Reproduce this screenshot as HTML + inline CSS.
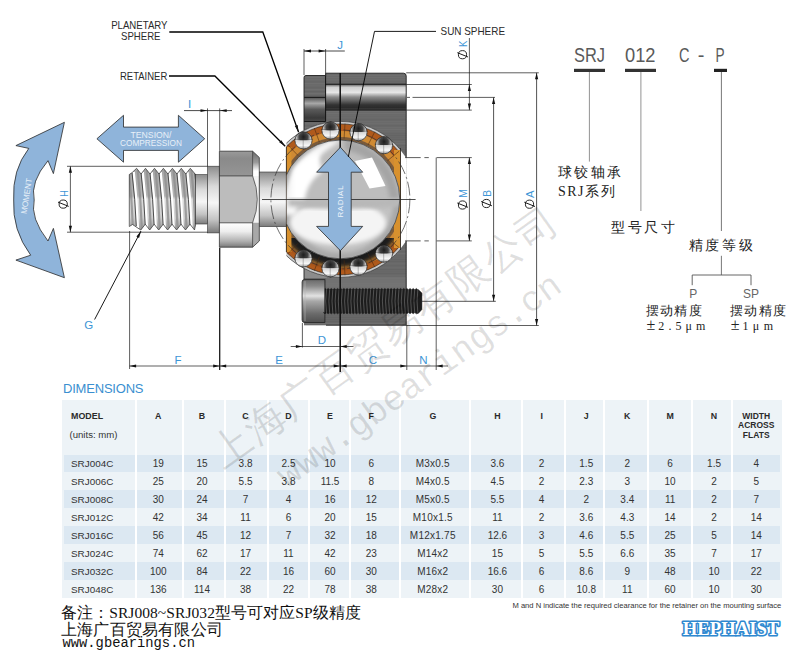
<!DOCTYPE html>
<html><head><meta charset="utf-8">
<style>
html,body{margin:0;padding:0;background:#fff;width:800px;height:657px;overflow:hidden;position:relative}
body{font-family:"Liberation Sans",sans-serif;color:#333}
.abs{position:absolute}
svg{position:absolute;left:0;top:0}
.tb{position:absolute;left:62px;top:400px;width:720px;height:198px;background:#edf3f7}
.cell{position:absolute;text-align:center;font-size:10px;color:#333}
.hd{font-weight:bold;font-size:8.5px;color:#222}
</style></head><body>

<svg width="800" height="657" viewBox="0 0 800 657">
<defs>
<linearGradient id="gThread" x1="0" y1="0" x2="0" y2="1">
<stop offset="0" stop-color="#9a9a9a"/><stop offset="0.25" stop-color="#e8e8e8"/><stop offset="0.5" stop-color="#c8c8c8"/><stop offset="0.7" stop-color="#f4f4f4"/><stop offset="1" stop-color="#8a8a8a"/>
</linearGradient>
<linearGradient id="gCyl" x1="0" y1="0" x2="0" y2="1">
<stop offset="0" stop-color="#8c8c8c"/><stop offset="0.3" stop-color="#d9d9d9"/><stop offset="0.55" stop-color="#f6f6f6"/><stop offset="0.8" stop-color="#c4c4c4"/><stop offset="1" stop-color="#7a7a7a"/>
</linearGradient>
<linearGradient id="gNutTop" x1="0" y1="0" x2="0" y2="1">
<stop offset="0" stop-color="#7d7d7d"/><stop offset="0.5" stop-color="#a8a8a8"/><stop offset="1" stop-color="#9a9a9a"/>
</linearGradient>
<linearGradient id="gNutMid" x1="0" y1="0" x2="0" y2="1">
<stop offset="0" stop-color="#a9a9a9"/><stop offset="0.5" stop-color="#c6c6c6"/><stop offset="1" stop-color="#b0b0b0"/>
</linearGradient>
<linearGradient id="gNutBot" x1="0" y1="0" x2="0" y2="1">
<stop offset="0" stop-color="#f2f2f2"/><stop offset="0.5" stop-color="#d0d0d0"/><stop offset="1" stop-color="#8a8a8a"/>
</linearGradient>
<linearGradient id="gHole" x1="0" y1="0" x2="0" y2="1">
<stop offset="0" stop-color="#5a5a5a"/><stop offset="0.12" stop-color="#cfcfcf"/><stop offset="0.32" stop-color="#e6e6e6"/><stop offset="0.5" stop-color="#8a8a8a"/><stop offset="0.62" stop-color="#6a6a6a"/><stop offset="0.8" stop-color="#333"/><stop offset="0.92" stop-color="#2a2a2a"/><stop offset="1" stop-color="#555"/>
</linearGradient>
<linearGradient id="gHoleL" x1="0" y1="0" x2="0" y2="1">
<stop offset="0" stop-color="#505050"/><stop offset="0.25" stop-color="#a8a8a8"/><stop offset="0.5" stop-color="#5a5a5a"/><stop offset="0.85" stop-color="#3a3a3a"/><stop offset="1" stop-color="#4a4a4a"/>
</linearGradient>
<linearGradient id="gHousing" x1="0" y1="0" x2="1" y2="0">
<stop offset="0" stop-color="#5e5e5e"/><stop offset="0.5" stop-color="#6e6e6e"/><stop offset="1" stop-color="#606060"/>
</linearGradient>
<linearGradient id="gScrewHead" x1="0" y1="0" x2="1" y2="0">
<stop offset="0" stop-color="#6a6a6a"/><stop offset="0.2" stop-color="#d8d8d8"/><stop offset="0.45" stop-color="#8a8a8a"/><stop offset="1" stop-color="#5a5a5a"/>
</linearGradient>
<linearGradient id="gScrewHeadV" x1="0" y1="0" x2="0" y2="1">
<stop offset="0" stop-color="#555"/><stop offset="0.3" stop-color="#cfcfcf"/><stop offset="0.6" stop-color="#8c8c8c"/><stop offset="1" stop-color="#4a4a4a"/>
</linearGradient>
<radialGradient id="gSphere" cx="0.45" cy="0.42" r="0.6">
<stop offset="0" stop-color="#ffffff"/><stop offset="0.35" stop-color="#d8d8d8"/><stop offset="0.7" stop-color="#b4b4b4"/><stop offset="0.92" stop-color="#e8e8e8"/><stop offset="1" stop-color="#9a9a9a"/>
</radialGradient>
<radialGradient id="gBall" cx="0.45" cy="0.35" r="0.6">
<stop offset="0" stop-color="#1a1a1a"/><stop offset="0.35" stop-color="#505050"/><stop offset="0.6" stop-color="#d8d8d8"/><stop offset="0.85" stop-color="#ffffff"/><stop offset="1" stop-color="#777"/>
</radialGradient>
<radialGradient id="gBallB" cx="0.45" cy="0.35" r="0.6">
<stop offset="0" stop-color="#1a1a1a"/><stop offset="0.35" stop-color="#505050"/><stop offset="0.6" stop-color="#d8d8d8"/><stop offset="0.85" stop-color="#ffffff"/><stop offset="1" stop-color="#777"/>
</radialGradient>
<marker id="ah" viewBox="0 0 10 6" refX="10" refY="3" markerWidth="7" markerHeight="4" orient="auto-start-reverse" markerUnits="userSpaceOnUse">
<path d="M0,0 L10,3 L0,6 z" fill="#111"/>
</marker>
</defs>
<path d="M64.4,122.3 L53.4,173.6 L48,160.7 Q30,182 34.2,200 Q30,218 48,241 L53.4,228.4 L64.4,277.7 L15.9,260.1 L30.7,255.2 Q12,230 13.7,200 Q12,170 28.8,148.4 L15.9,145.6 Z" fill="#8fb4da" stroke="#2a2a2a" stroke-width="0.8"/>
<text x="0" y="0" font-family="Liberation Sans" font-size="8.2" fill="#e8f0f8" text-anchor="middle" textLength="36" lengthAdjust="spacingAndGlyphs" transform="translate(29.2,196.5) rotate(-81)">MOMENT</text>
<path d="M96.9,138.75 L123.5,115.3 L123.5,127.1 L178.4,127.1 L178.4,115.3 L204.7,138.75 L178.4,162.2 L178.4,150.4 L123.5,150.4 L123.5,162.2 Z" fill="#8fb4da" stroke="#2a2a2a" stroke-width="0.8"/>
<text x="151" y="137.8" font-family="Liberation Sans" font-size="8.6" fill="#e8f0f8" text-anchor="middle" textLength="41" lengthAdjust="spacingAndGlyphs">TENSION/</text>
<text x="151" y="146.1" font-family="Liberation Sans" font-size="8.6" fill="#e8f0f8" text-anchor="middle" textLength="62" lengthAdjust="spacingAndGlyphs">COMPRESSION</text>
<defs><linearGradient id="gTh" x1="0" y1="0" x2="0" y2="1"><stop offset="0" stop-color="#a8a8a8"/><stop offset="0.45" stop-color="#b4b4b4"/><stop offset="0.5" stop-color="#dcdcdc"/><stop offset="0.8" stop-color="#cfcfcf"/><stop offset="1" stop-color="#9a9a9a"/></linearGradient><clipPath id="cpTh"><path d="M129.3,174.5 L132.2,172.5 L136.6,168.3 L141.1,174.0 L145.5,168.3 L150.0,174.0 L154.5,168.3 L159.0,174.0 L163.4,168.3 L167.9,174.0 L172.4,168.3 L176.9,174.0 L181.3,168.3 L185.8,174.0 L190.3,168.3 L195.6,174.5 L195.6,224.5 L194.5,230.0 L190.0,224.2 L185.5,230.0 L181.1,224.2 L176.6,230.0 L172.1,224.2 L167.6,230.0 L163.2,224.2 L158.7,230.0 L154.2,224.2 L149.7,230.0 L145.3,224.2 L140.8,230.0 L132.5,224.5 L129.3,226.5 Z"/></clipPath></defs>
<path d="M129.3,174.5 L132.2,172.5 L136.6,168.3 L141.1,174.0 L145.5,168.3 L150.0,174.0 L154.5,168.3 L159.0,174.0 L163.4,168.3 L167.9,174.0 L172.4,168.3 L176.9,174.0 L181.3,168.3 L185.8,174.0 L190.3,168.3 L195.6,174.5 L195.6,224.5 L194.5,230.0 L190.0,224.2 L185.5,230.0 L181.1,224.2 L176.6,230.0 L172.1,224.2 L167.6,230.0 L163.2,224.2 L158.7,230.0 L154.2,224.2 L149.7,230.0 L145.3,224.2 L140.8,230.0 L132.5,224.5 L129.3,226.5 Z" fill="url(#gTh)"/>
<g clip-path="url(#cpTh)">
<path d="M124.7,172 Q127.8,199 128.9,228" fill="none" stroke="#ffffff" stroke-width="2.6"/>
<path d="M128.8,170 Q131.9,199 133.0,230" fill="none" stroke="#8e8e8e" stroke-width="2.2" opacity="0.8"/>
<path d="M123.2,173 Q126.3,199 127.4,226" fill="none" stroke="#3a3a3a" stroke-width="0.9"/>
<path d="M133.6,172 Q136.7,199 137.8,228" fill="none" stroke="#ffffff" stroke-width="2.6"/>
<path d="M137.7,170 Q140.8,199 141.9,230" fill="none" stroke="#8e8e8e" stroke-width="2.2" opacity="0.8"/>
<path d="M132.1,173 Q135.2,199 136.3,226" fill="none" stroke="#3a3a3a" stroke-width="0.9"/>
<path d="M142.6,172 Q145.7,199 146.8,228" fill="none" stroke="#ffffff" stroke-width="2.6"/>
<path d="M146.7,170 Q149.8,199 150.9,230" fill="none" stroke="#8e8e8e" stroke-width="2.2" opacity="0.8"/>
<path d="M141.1,173 Q144.2,199 145.3,226" fill="none" stroke="#3a3a3a" stroke-width="0.9"/>
<path d="M151.5,172 Q154.6,199 155.7,228" fill="none" stroke="#ffffff" stroke-width="2.6"/>
<path d="M155.6,170 Q158.7,199 159.8,230" fill="none" stroke="#8e8e8e" stroke-width="2.2" opacity="0.8"/>
<path d="M150.0,173 Q153.1,199 154.2,226" fill="none" stroke="#3a3a3a" stroke-width="0.9"/>
<path d="M160.5,172 Q163.6,199 164.7,228" fill="none" stroke="#ffffff" stroke-width="2.6"/>
<path d="M164.6,170 Q167.7,199 168.8,230" fill="none" stroke="#8e8e8e" stroke-width="2.2" opacity="0.8"/>
<path d="M159.0,173 Q162.1,199 163.2,226" fill="none" stroke="#3a3a3a" stroke-width="0.9"/>
<path d="M169.4,172 Q172.5,199 173.6,228" fill="none" stroke="#ffffff" stroke-width="2.6"/>
<path d="M173.5,170 Q176.6,199 177.7,230" fill="none" stroke="#8e8e8e" stroke-width="2.2" opacity="0.8"/>
<path d="M167.9,173 Q171.0,199 172.1,226" fill="none" stroke="#3a3a3a" stroke-width="0.9"/>
<path d="M178.4,172 Q181.5,199 182.6,228" fill="none" stroke="#ffffff" stroke-width="2.6"/>
<path d="M182.5,170 Q185.6,199 186.7,230" fill="none" stroke="#8e8e8e" stroke-width="2.2" opacity="0.8"/>
<path d="M176.9,173 Q180.0,199 181.1,226" fill="none" stroke="#3a3a3a" stroke-width="0.9"/>
<path d="M187.3,172 Q190.4,199 191.5,228" fill="none" stroke="#ffffff" stroke-width="2.6"/>
<path d="M191.4,170 Q194.5,199 195.6,230" fill="none" stroke="#8e8e8e" stroke-width="2.2" opacity="0.8"/>
<path d="M185.8,173 Q188.9,199 190.0,226" fill="none" stroke="#3a3a3a" stroke-width="0.9"/>
<path d="M196.3,172 Q199.4,199 200.5,228" fill="none" stroke="#ffffff" stroke-width="2.6"/>
<path d="M200.4,170 Q203.5,199 204.6,230" fill="none" stroke="#8e8e8e" stroke-width="2.2" opacity="0.8"/>
<path d="M194.8,173 Q197.9,199 199.0,226" fill="none" stroke="#3a3a3a" stroke-width="0.9"/>
</g>
<path d="M129.3,174.5 L132.2,172.5 L136.6,168.3 L141.1,174.0 L145.5,168.3 L150.0,174.0 L154.5,168.3 L159.0,174.0 L163.4,168.3 L167.9,174.0 L172.4,168.3 L176.9,174.0 L181.3,168.3 L185.8,174.0 L190.3,168.3 L195.6,174.5 L195.6,224.5 L194.5,230.0 L190.0,224.2 L185.5,230.0 L181.1,224.2 L176.6,230.0 L172.1,224.2 L167.6,230.0 L163.2,224.2 L158.7,230.0 L154.2,224.2 L149.7,230.0 L145.3,224.2 L140.8,230.0 L132.5,224.5 L129.3,226.5 Z" fill="none" stroke="#333" stroke-width="0.7"/>
<rect x="195.6" y="174.6" width="11.9" height="49.4" fill="url(#gCyl)" stroke="#333" stroke-width="0.6"/>
<rect x="207.5" y="166.2" width="12.2" height="66.7" fill="url(#gCyl)" stroke="#333" stroke-width="0.6"/>
<defs><linearGradient id="gNT" x1="0" y1="0" x2="0" y2="1"><stop offset="0" stop-color="#9a9a9a"/><stop offset="0.3" stop-color="#8a8a8a"/><stop offset="1" stop-color="#959595"/></linearGradient><linearGradient id="gNB" x1="0" y1="0" x2="0" y2="1"><stop offset="0" stop-color="#ffffff"/><stop offset="0.35" stop-color="#eeeeee"/><stop offset="0.75" stop-color="#b0b0b0"/><stop offset="1" stop-color="#7a7a7a"/></linearGradient><linearGradient id="gNC" x1="0" y1="0" x2="0" y2="1"><stop offset="0" stop-color="#6a6a6a"/><stop offset="0.45" stop-color="#9a9a9a"/><stop offset="0.8" stop-color="#ffffff"/><stop offset="1" stop-color="#ffffff"/></linearGradient></defs>
<rect x="219.4" y="151.2" width="33.4" height="24.7" fill="url(#gNT)"/>
<path d="M219.4,175.9 L252.6,175.9 Q262,199.3 252.6,222.8 L219.4,222.8 Z" fill="#bcbcbc"/>
<rect x="219.4" y="222.8" width="33.4" height="24.4" fill="url(#gNB)"/>
<path d="M252.6,151.2 L259.3,157.5 L259.3,176 L252.6,176 Z" fill="url(#gNC)"/>
<path d="M252.6,175.9 L259.3,176 L259.3,222.8 L252.6,222.8 Q262,199.3 252.6,175.9 Z" fill="#f4f4f4"/>
<path d="M252.6,222.8 L259.3,222.8 L259.3,241 L252.6,247.2 Z" fill="#a8a8a8"/>
<path d="M219.4,151.2 L252.6,151.2 L259.3,157.5 L259.3,241 L252.6,247.2 L219.4,247.2 Z" fill="none" stroke="#333" stroke-width="0.8"/>
<path d="M252.6,151.2 L252.6,175.9 Q262,199.3 252.6,222.8 L252.6,247.2" fill="none" stroke="#333" stroke-width="0.7"/>
<line x1="219.4" y1="175.9" x2="252.6" y2="175.9" stroke="#333" stroke-width="0.8" />
<line x1="219.4" y1="222.8" x2="252.6" y2="222.8" stroke="#333" stroke-width="0.8" />
<rect x="259.3" y="172" width="28" height="54.6" fill="url(#gCyl)" stroke="#333" stroke-width="0.6"/>
<defs><clipPath id="cpHouse"><path d="M304,77.5 Q304,75.5 306,75.5 L325.6,75.5 L325.6,73.2 L403.5,73.2 Q406.2,73.2 406.2,76 L406.2,325.2 L304,325.2 Z"/></clipPath><clipPath id="cpRet"><rect x="286.4" y="100" width="114.1" height="200"/></clipPath><linearGradient id="gBall2" x1="0" y1="0" x2="0" y2="1"><stop offset="0" stop-color="#6a6a6a"/><stop offset="0.12" stop-color="#222"/><stop offset="0.44" stop-color="#3a3a3a"/><stop offset="0.52" stop-color="#c4c4c4"/><stop offset="0.8" stop-color="#f0f0f0"/><stop offset="1" stop-color="#8a8a8a"/></linearGradient><filter id="blur1" x="-20%" y="-20%" width="140%" height="140%"><feGaussianBlur stdDeviation="2"/></filter><filter id="blur3" x="-30%" y="-30%" width="160%" height="160%"><feGaussianBlur stdDeviation="4"/></filter></defs>
<g clip-path="url(#cpHouse)">
<rect x="300" y="70" width="110" height="260" fill="#6a6a6a"/>
<rect x="304" y="73.0" width="103" height="1.2" fill="#737373" opacity="0.35"/>
<rect x="304" y="75.0" width="103" height="1.2" fill="#787878" opacity="0.35"/>
<rect x="304" y="77.0" width="103" height="1.2" fill="#787878" opacity="0.35"/>
<rect x="304" y="79.0" width="103" height="1.2" fill="#737373" opacity="0.35"/>
<rect x="304" y="81.0" width="103" height="1.2" fill="#616161" opacity="0.35"/>
<rect x="304" y="83.0" width="103" height="1.2" fill="#787878" opacity="0.35"/>
<rect x="304" y="85.0" width="103" height="1.2" fill="#6c6c6c" opacity="0.35"/>
<rect x="304" y="87.0" width="103" height="1.2" fill="#5e5e5e" opacity="0.35"/>
<rect x="304" y="89.0" width="103" height="1.2" fill="#787878" opacity="0.35"/>
<rect x="304" y="91.0" width="103" height="1.2" fill="#5a5a5a" opacity="0.35"/>
<rect x="304" y="93.0" width="103" height="1.2" fill="#787878" opacity="0.35"/>
<rect x="304" y="95.0" width="103" height="1.2" fill="#5a5a5a" opacity="0.35"/>
<rect x="304" y="97.0" width="103" height="1.2" fill="#6c6c6c" opacity="0.35"/>
<rect x="304" y="99.0" width="103" height="1.2" fill="#616161" opacity="0.35"/>
<rect x="304" y="101.0" width="103" height="1.2" fill="#787878" opacity="0.35"/>
<rect x="304" y="103.0" width="103" height="1.2" fill="#737373" opacity="0.35"/>
<rect x="304" y="105.0" width="103" height="1.2" fill="#737373" opacity="0.35"/>
<rect x="304" y="107.0" width="103" height="1.2" fill="#5e5e5e" opacity="0.35"/>
<rect x="304" y="109.0" width="103" height="1.2" fill="#6c6c6c" opacity="0.35"/>
<rect x="304" y="111.0" width="103" height="1.2" fill="#787878" opacity="0.35"/>
<rect x="304" y="113.0" width="103" height="1.2" fill="#787878" opacity="0.35"/>
<rect x="304" y="115.0" width="103" height="1.2" fill="#6c6c6c" opacity="0.35"/>
<rect x="304" y="117.0" width="103" height="1.2" fill="#6c6c6c" opacity="0.35"/>
<rect x="304" y="119.0" width="103" height="1.2" fill="#5e5e5e" opacity="0.35"/>
<rect x="304" y="121.0" width="103" height="1.2" fill="#737373" opacity="0.35"/>
<rect x="304" y="123.0" width="103" height="1.2" fill="#737373" opacity="0.35"/>
<rect x="304" y="125.0" width="103" height="1.2" fill="#5e5e5e" opacity="0.35"/>
<rect x="304" y="127.0" width="103" height="1.2" fill="#737373" opacity="0.35"/>
<rect x="304" y="129.0" width="103" height="1.2" fill="#787878" opacity="0.35"/>
<rect x="304" y="131.0" width="103" height="1.2" fill="#6c6c6c" opacity="0.35"/>
<rect x="304" y="133.0" width="103" height="1.2" fill="#5e5e5e" opacity="0.35"/>
<rect x="304" y="135.0" width="103" height="1.2" fill="#5a5a5a" opacity="0.35"/>
<rect x="304" y="137.0" width="103" height="1.2" fill="#5e5e5e" opacity="0.35"/>
<rect x="304" y="139.0" width="103" height="1.2" fill="#5a5a5a" opacity="0.35"/>
<rect x="304" y="141.0" width="103" height="1.2" fill="#737373" opacity="0.35"/>
<rect x="304" y="143.0" width="103" height="1.2" fill="#787878" opacity="0.35"/>
<rect x="304" y="145.0" width="103" height="1.2" fill="#5a5a5a" opacity="0.35"/>
<rect x="304" y="147.0" width="103" height="1.2" fill="#616161" opacity="0.35"/>
<rect x="304" y="149.0" width="103" height="1.2" fill="#5a5a5a" opacity="0.35"/>
<rect x="304" y="151.0" width="103" height="1.2" fill="#616161" opacity="0.35"/>
<rect x="304" y="153.0" width="103" height="1.2" fill="#6c6c6c" opacity="0.35"/>
<rect x="304" y="155.0" width="103" height="1.2" fill="#787878" opacity="0.35"/>
<rect x="304" y="157.0" width="103" height="1.2" fill="#5e5e5e" opacity="0.35"/>
<rect x="304" y="159.0" width="103" height="1.2" fill="#6c6c6c" opacity="0.35"/>
<rect x="304" y="161.0" width="103" height="1.2" fill="#5e5e5e" opacity="0.35"/>
<rect x="304" y="163.0" width="103" height="1.2" fill="#6c6c6c" opacity="0.35"/>
<rect x="304" y="165.0" width="103" height="1.2" fill="#6c6c6c" opacity="0.35"/>
<rect x="304" y="167.0" width="103" height="1.2" fill="#5e5e5e" opacity="0.35"/>
<rect x="304" y="169.0" width="103" height="1.2" fill="#787878" opacity="0.35"/>
<rect x="304" y="171.0" width="103" height="1.2" fill="#6c6c6c" opacity="0.35"/>
<rect x="304" y="173.0" width="103" height="1.2" fill="#737373" opacity="0.35"/>
<rect x="304" y="175.0" width="103" height="1.2" fill="#616161" opacity="0.35"/>
<rect x="304" y="177.0" width="103" height="1.2" fill="#5a5a5a" opacity="0.35"/>
<rect x="304" y="179.0" width="103" height="1.2" fill="#5a5a5a" opacity="0.35"/>
<rect x="304" y="181.0" width="103" height="1.2" fill="#737373" opacity="0.35"/>
<rect x="304" y="183.0" width="103" height="1.2" fill="#6c6c6c" opacity="0.35"/>
<rect x="304" y="185.0" width="103" height="1.2" fill="#737373" opacity="0.35"/>
<rect x="304" y="187.0" width="103" height="1.2" fill="#616161" opacity="0.35"/>
<rect x="304" y="189.0" width="103" height="1.2" fill="#5e5e5e" opacity="0.35"/>
<rect x="304" y="191.0" width="103" height="1.2" fill="#6c6c6c" opacity="0.35"/>
<rect x="304" y="193.0" width="103" height="1.2" fill="#5e5e5e" opacity="0.35"/>
<rect x="304" y="195.0" width="103" height="1.2" fill="#616161" opacity="0.35"/>
<rect x="304" y="197.0" width="103" height="1.2" fill="#6c6c6c" opacity="0.35"/>
<rect x="304" y="199.0" width="103" height="1.2" fill="#787878" opacity="0.35"/>
<rect x="304" y="201.0" width="103" height="1.2" fill="#6c6c6c" opacity="0.35"/>
<rect x="304" y="203.0" width="103" height="1.2" fill="#787878" opacity="0.35"/>
<rect x="304" y="205.0" width="103" height="1.2" fill="#616161" opacity="0.35"/>
<rect x="304" y="207.0" width="103" height="1.2" fill="#787878" opacity="0.35"/>
<rect x="304" y="209.0" width="103" height="1.2" fill="#787878" opacity="0.35"/>
<rect x="304" y="211.0" width="103" height="1.2" fill="#6c6c6c" opacity="0.35"/>
<rect x="304" y="213.0" width="103" height="1.2" fill="#787878" opacity="0.35"/>
<rect x="304" y="215.0" width="103" height="1.2" fill="#737373" opacity="0.35"/>
<rect x="304" y="217.0" width="103" height="1.2" fill="#616161" opacity="0.35"/>
<rect x="304" y="219.0" width="103" height="1.2" fill="#5e5e5e" opacity="0.35"/>
<rect x="304" y="221.0" width="103" height="1.2" fill="#5a5a5a" opacity="0.35"/>
<rect x="304" y="223.0" width="103" height="1.2" fill="#616161" opacity="0.35"/>
<rect x="304" y="225.0" width="103" height="1.2" fill="#787878" opacity="0.35"/>
<rect x="304" y="227.0" width="103" height="1.2" fill="#5e5e5e" opacity="0.35"/>
<rect x="304" y="229.0" width="103" height="1.2" fill="#5e5e5e" opacity="0.35"/>
<rect x="304" y="231.0" width="103" height="1.2" fill="#737373" opacity="0.35"/>
<rect x="304" y="233.0" width="103" height="1.2" fill="#5e5e5e" opacity="0.35"/>
<rect x="304" y="235.0" width="103" height="1.2" fill="#616161" opacity="0.35"/>
<rect x="304" y="237.0" width="103" height="1.2" fill="#787878" opacity="0.35"/>
<rect x="304" y="239.0" width="103" height="1.2" fill="#787878" opacity="0.35"/>
<rect x="304" y="241.0" width="103" height="1.2" fill="#787878" opacity="0.35"/>
<rect x="304" y="243.0" width="103" height="1.2" fill="#5a5a5a" opacity="0.35"/>
<rect x="304" y="245.0" width="103" height="1.2" fill="#5e5e5e" opacity="0.35"/>
<rect x="304" y="247.0" width="103" height="1.2" fill="#5e5e5e" opacity="0.35"/>
<rect x="304" y="249.0" width="103" height="1.2" fill="#737373" opacity="0.35"/>
<rect x="304" y="251.0" width="103" height="1.2" fill="#5e5e5e" opacity="0.35"/>
<rect x="304" y="253.0" width="103" height="1.2" fill="#787878" opacity="0.35"/>
<rect x="304" y="255.0" width="103" height="1.2" fill="#616161" opacity="0.35"/>
<rect x="304" y="257.0" width="103" height="1.2" fill="#616161" opacity="0.35"/>
<rect x="304" y="259.0" width="103" height="1.2" fill="#5a5a5a" opacity="0.35"/>
<rect x="304" y="261.0" width="103" height="1.2" fill="#5a5a5a" opacity="0.35"/>
<rect x="304" y="263.0" width="103" height="1.2" fill="#6c6c6c" opacity="0.35"/>
<rect x="304" y="265.0" width="103" height="1.2" fill="#5e5e5e" opacity="0.35"/>
<rect x="304" y="267.0" width="103" height="1.2" fill="#6c6c6c" opacity="0.35"/>
<rect x="304" y="269.0" width="103" height="1.2" fill="#5a5a5a" opacity="0.35"/>
<rect x="304" y="271.0" width="103" height="1.2" fill="#616161" opacity="0.35"/>
<rect x="304" y="273.0" width="103" height="1.2" fill="#5a5a5a" opacity="0.35"/>
<rect x="304" y="275.0" width="103" height="1.2" fill="#6c6c6c" opacity="0.35"/>
<rect x="304" y="277.0" width="103" height="1.2" fill="#737373" opacity="0.35"/>
<rect x="304" y="279.0" width="103" height="1.2" fill="#5a5a5a" opacity="0.35"/>
<rect x="304" y="281.0" width="103" height="1.2" fill="#616161" opacity="0.35"/>
<rect x="304" y="283.0" width="103" height="1.2" fill="#6c6c6c" opacity="0.35"/>
<rect x="304" y="285.0" width="103" height="1.2" fill="#6c6c6c" opacity="0.35"/>
<rect x="304" y="287.0" width="103" height="1.2" fill="#5a5a5a" opacity="0.35"/>
<rect x="304" y="289.0" width="103" height="1.2" fill="#5a5a5a" opacity="0.35"/>
<rect x="304" y="291.0" width="103" height="1.2" fill="#787878" opacity="0.35"/>
<rect x="304" y="293.0" width="103" height="1.2" fill="#787878" opacity="0.35"/>
<rect x="304" y="295.0" width="103" height="1.2" fill="#5a5a5a" opacity="0.35"/>
<rect x="304" y="297.0" width="103" height="1.2" fill="#6c6c6c" opacity="0.35"/>
<rect x="304" y="299.0" width="103" height="1.2" fill="#5e5e5e" opacity="0.35"/>
<rect x="304" y="301.0" width="103" height="1.2" fill="#787878" opacity="0.35"/>
<rect x="304" y="303.0" width="103" height="1.2" fill="#616161" opacity="0.35"/>
<rect x="304" y="305.0" width="103" height="1.2" fill="#787878" opacity="0.35"/>
<rect x="304" y="307.0" width="103" height="1.2" fill="#616161" opacity="0.35"/>
<rect x="304" y="309.0" width="103" height="1.2" fill="#787878" opacity="0.35"/>
<rect x="304" y="311.0" width="103" height="1.2" fill="#737373" opacity="0.35"/>
<rect x="304" y="313.0" width="103" height="1.2" fill="#5a5a5a" opacity="0.35"/>
<rect x="304" y="315.0" width="103" height="1.2" fill="#616161" opacity="0.35"/>
<rect x="304" y="317.0" width="103" height="1.2" fill="#5a5a5a" opacity="0.35"/>
<rect x="304" y="319.0" width="103" height="1.2" fill="#5a5a5a" opacity="0.35"/>
<rect x="304" y="321.0" width="103" height="1.2" fill="#5a5a5a" opacity="0.35"/>
<rect x="304" y="323.0" width="103" height="1.2" fill="#787878" opacity="0.35"/>
<rect x="304" y="325.0" width="103" height="1.2" fill="#787878" opacity="0.35"/>
<rect x="304" y="327.0" width="103" height="1.2" fill="#5a5a5a" opacity="0.35"/>
<rect x="304" y="329.0" width="103" height="1.2" fill="#737373" opacity="0.35"/>
<rect x="304" y="331.0" width="103" height="1.2" fill="#6c6c6c" opacity="0.35"/>
<rect x="325.6" y="84.2" width="81" height="25.8" fill="url(#gHole)"/>
<line x1="325.6" y1="84.2" x2="406.2" y2="84.2" stroke="#111" stroke-width="1.0" />
<line x1="325.6" y1="110" x2="406.2" y2="110" stroke="#111" stroke-width="1.0" />
<rect x="304" y="97.3" width="21.6" height="24.2" fill="url(#gHoleL)"/>
<line x1="304" y1="97.3" x2="325.6" y2="97.3" stroke="#111" stroke-width="1.0" />
<line x1="304" y1="121.5" x2="325.6" y2="121.5" stroke="#111" stroke-width="0.9" />
<line x1="325.6" y1="73.2" x2="325.6" y2="121.5" stroke="#111" stroke-width="1.0" />
<rect x="304" y="262" width="23" height="16" fill="#8c8c8c"/>
<rect x="326" y="277.4" width="81" height="11" fill="#7a7a7a" opacity="0.6"/>
<circle cx="340.4" cy="199.4" r="77.8" fill="#ffffff"/>
</g>
<path d="M304,77.5 Q304,75.5 306,75.5 L325.6,75.5 L325.6,73.2 L403.5,73.2 Q406.2,73.2 406.2,76 L406.2,157.6 M406.2,240.9 L406.2,325.2 L326,325.2 M304,77.5 L304,130 M304,268 L304,281" fill="none" stroke="#222" stroke-width="0.9"/>
<g clip-path="url(#cpRet)">
<circle cx="340.4" cy="199.4" r="78" fill="#c9c9c9" stroke="#333" stroke-width="0.7"/>
<circle cx="340.4" cy="199.4" r="75.5" fill="#b05a1c" stroke="#222" stroke-width="0.6"/>
<circle cx="340.4" cy="199.4" r="68.5" fill="#cf8a34"/>
<circle cx="340.4" cy="199.4" r="62.5" fill="#7a5a3a"/>
</g>
<defs><clipPath id="cpBot"><rect x="286.4" y="238" width="114" height="60"/></clipPath></defs>
<g clip-path="url(#cpBot)">
<circle cx="340.4" cy="199.4" r="67.5" fill="#1e1e1e" filter="url(#blur1)"/>
<path d="M372,262 L386,255 L390,250 L378,258 Z" fill="#e0a030"/>
</g>
<rect x="286.4" y="147" width="5" height="26" fill="#d8912e"/><rect x="286.4" y="226" width="5" height="26" fill="#d8912e"/>
<rect x="394" y="150" width="6.5" height="98" fill="#d8912e"/>
<line x1="286.4" y1="147" x2="286.4" y2="252" stroke="#222" stroke-width="0.8" />
<line x1="400.5" y1="148" x2="400.5" y2="250" stroke="#222" stroke-width="0.8" />
<rect x="401" y="157.6" width="5.2" height="83.3" fill="#fff"/>
<defs><clipPath id="cpSph"><circle cx="340.4" cy="199.4" r="59.4"/></clipPath><clipPath id="cpSphL"><rect x="286.8" y="100" width="200" height="200"/></clipPath></defs>
<g clip-path="url(#cpSphL)">
<g clip-path="url(#cpSph)">
<circle cx="340.4" cy="199.4" r="59.4" fill="#c2c2c2"/>
<circle cx="340.4" cy="199.4" r="59.4" fill="none" stroke="#a8a8a8" stroke-width="12" filter="url(#blur1)"/>
<ellipse cx="338" cy="223" rx="48" ry="22" fill="#f4f4f4" filter="url(#blur1)"/>
<path d="M286,199 Q300,150 345,142 Q395,146 402,190 L402,205 L286,205 Z" fill="#bdbdbd" filter="url(#blur1)"/>
<path d="M284,215 Q282,160 330,140 L345,140 Q300,158 296,215 Z" fill="#f6f6f6" filter="url(#blur1)"/>
<path d="M293,170 Q300,160 318,152 L322,172 Q306,182 304,205 L292,205 Z" fill="#ffffff" filter="url(#blur1)"/>
<path d="M345,140 Q392,148 400,199 L390,199 Q384,158 345,150 Z" fill="#a4a4a4" filter="url(#blur1)"/>
<path d="M355,161 L372,157.5 L385.5,186 L369.5,188.5 Z" fill="#ffffff"/>
<path d="M288,199 L398,199 L398,206 Q340,212 288,206 Z" fill="#b8b8b8" filter="url(#blur1)"/>
</g>
<circle cx="340.4" cy="199.4" r="59.4" fill="none" stroke="#333" stroke-width="0.7"/>
</g>
<circle cx="340.4" cy="199.4" r="69.5" fill="none" stroke="#333" stroke-width="0.7" stroke-dasharray="14,3,2,3"/>
<line x1="298.0" y1="155.5" x2="287.6" y2="144.7" stroke="#4a2a10" stroke-width="0.7" opacity="0.8"/>
<line x1="298.0" y1="243.3" x2="287.6" y2="254.1" stroke="#4a2a10" stroke-width="0.7" opacity="0.8"/>
<line x1="319.4" y1="142.1" x2="314.3" y2="128.0" stroke="#4a2a10" stroke-width="0.7" opacity="0.8"/>
<line x1="319.4" y1="256.7" x2="314.3" y2="270.8" stroke="#4a2a10" stroke-width="0.7" opacity="0.8"/>
<line x1="344.1" y1="138.5" x2="345.0" y2="123.5" stroke="#4a2a10" stroke-width="0.7" opacity="0.8"/>
<line x1="344.1" y1="260.3" x2="345.0" y2="275.3" stroke="#4a2a10" stroke-width="0.7" opacity="0.8"/>
<line x1="368.0" y1="145.0" x2="374.8" y2="131.7" stroke="#4a2a10" stroke-width="0.7" opacity="0.8"/>
<line x1="368.0" y1="253.8" x2="374.8" y2="267.1" stroke="#4a2a10" stroke-width="0.7" opacity="0.8"/>
<line x1="387.5" y1="160.7" x2="399.1" y2="151.2" stroke="#4a2a10" stroke-width="0.7" opacity="0.8"/>
<line x1="387.5" y1="238.1" x2="399.1" y2="247.6" stroke="#4a2a10" stroke-width="0.7" opacity="0.8"/>
<defs><radialGradient id="gBallR" cx="0.5" cy="0.3" r="0.55"><stop offset="0" stop-color="#1e1e1e"/><stop offset="0.45" stop-color="#444"/><stop offset="0.75" stop-color="#bdbdbd"/><stop offset="1" stop-color="#f0f0f0"/></radialGradient><linearGradient id="gBallL" x1="0" y1="0" x2="0" y2="1"><stop offset="0" stop-color="#fff" stop-opacity="0"/><stop offset="0.48" stop-color="#fff" stop-opacity="0"/><stop offset="0.52" stop-color="#d8d8d8" stop-opacity="1"/><stop offset="0.8" stop-color="#f6f6f6" stop-opacity="1"/><stop offset="1" stop-color="#9a9a9a" stop-opacity="1"/></linearGradient></defs>
<circle cx="303.5" cy="140.4" r="8.6" fill="url(#gBallR)"/>
<circle cx="303.5" cy="140.4" r="8.6" fill="url(#gBallL)" stroke="#1a1a1a" stroke-width="0.7"/>
<path d="M303.2,130.9 L303.2,149.9 M294.0,139.4 L313.0,139.4" stroke="#222" stroke-width="0.5" opacity="0.6"/>
<circle cx="303.5" cy="258.4" r="8.6" fill="url(#gBallR)"/>
<circle cx="303.5" cy="258.4" r="8.6" fill="url(#gBallL)" stroke="#1a1a1a" stroke-width="0.7"/>
<path d="M303.2,248.9 L303.2,267.9 M294.0,257.4 L313.0,257.4" stroke="#222" stroke-width="0.5" opacity="0.6"/>
<circle cx="330.5" cy="130.5" r="8.6" fill="url(#gBallR)"/>
<circle cx="330.5" cy="130.5" r="8.6" fill="url(#gBallL)" stroke="#1a1a1a" stroke-width="0.7"/>
<path d="M330.2,121.0 L330.2,140.0 M321.0,129.5 L340.0,129.5" stroke="#222" stroke-width="0.5" opacity="0.6"/>
<circle cx="330.5" cy="268.3" r="8.6" fill="url(#gBallR)"/>
<circle cx="330.5" cy="268.3" r="8.6" fill="url(#gBallL)" stroke="#1a1a1a" stroke-width="0.7"/>
<path d="M330.2,258.8 L330.2,277.8 M321.0,267.3 L340.0,267.3" stroke="#222" stroke-width="0.5" opacity="0.6"/>
<circle cx="358.5" cy="132.2" r="8.6" fill="url(#gBallR)"/>
<circle cx="358.5" cy="132.2" r="8.6" fill="url(#gBallL)" stroke="#1a1a1a" stroke-width="0.7"/>
<path d="M358.2,122.7 L358.2,141.7 M349.0,131.2 L368.0,131.2" stroke="#222" stroke-width="0.5" opacity="0.6"/>
<circle cx="358.5" cy="266.6" r="8.6" fill="url(#gBallR)"/>
<circle cx="358.5" cy="266.6" r="8.6" fill="url(#gBallL)" stroke="#1a1a1a" stroke-width="0.7"/>
<path d="M358.2,257.1 L358.2,276.1 M349.0,265.6 L368.0,265.6" stroke="#222" stroke-width="0.5" opacity="0.6"/>
<circle cx="384.0" cy="145.2" r="8.6" fill="url(#gBallR)"/>
<circle cx="384.0" cy="145.2" r="8.6" fill="url(#gBallL)" stroke="#1a1a1a" stroke-width="0.7"/>
<path d="M383.7,135.7 L383.7,154.7 M374.5,144.2 L393.5,144.2" stroke="#222" stroke-width="0.5" opacity="0.6"/>
<circle cx="384.0" cy="253.6" r="8.6" fill="url(#gBallR)"/>
<circle cx="384.0" cy="253.6" r="8.6" fill="url(#gBallL)" stroke="#1a1a1a" stroke-width="0.7"/>
<path d="M383.7,244.1 L383.7,263.1 M374.5,252.6 L393.5,252.6" stroke="#222" stroke-width="0.5" opacity="0.6"/>
<defs><linearGradient id="gSH" x1="0" y1="0" x2="0" y2="1"><stop offset="0" stop-color="#6a6a6a"/><stop offset="0.15" stop-color="#8a8a8a"/><stop offset="0.38" stop-color="#e2e2e2"/><stop offset="0.5" stop-color="#a8a8a8"/><stop offset="0.8" stop-color="#6a6a6a"/><stop offset="1" stop-color="#505050"/></linearGradient></defs>
<path d="M304.5,279.6 L324.9,279.6 L324.9,322.5 L304.5,322.5 Q302.1,322.5 302.1,320 L302.1,282 Q302.1,279.6 304.5,279.6 Z" fill="url(#gSH)" stroke="#222" stroke-width="0.8"/>
<line x1="305" y1="281" x2="305" y2="321" stroke="#bbb" stroke-width="0.6" />
<path d="M325,289.8 L325.00,288.4 L326.57,289.8 L328.15,288.4 L329.72,289.8 L331.30,288.4 L332.87,289.8 L334.45,288.4 L336.02,289.8 L337.60,288.4 L339.17,289.8 L340.75,288.4 L342.32,289.8 L343.90,288.4 L345.47,289.8 L347.05,288.4 L348.62,289.8 L350.20,288.4 L351.77,289.8 L353.35,288.4 L354.92,289.8 L356.50,288.4 L358.07,289.8 L359.65,288.4 L361.22,289.8 L362.80,288.4 L364.37,289.8 L365.95,288.4 L367.52,289.8 L369.10,288.4 L370.67,289.8 L372.25,288.4 L373.82,289.8 L375.40,288.4 L376.97,289.8 L378.55,288.4 L380.12,289.8 L381.70,288.4 L383.27,289.8 L384.85,288.4 L386.42,289.8 L388.00,288.4 L389.57,289.8 L391.15,288.4 L392.72,289.8 L394.30,288.4 L395.87,289.8 L397.45,288.4 L399.02,289.8 L400.60,288.4 L402.17,289.8 L403.75,288.4 L405.32,289.8 L406.90,288.4 L408.47,289.8 L410.05,288.4 L411.62,289.8 L413.20,288.4 L414.77,289.8 L416.35,288.4 L417.92,289.8 L418.5,289.8 L421.9,293 L421.9,309.5 L418.5,313.2 L416.35,313.8 L414.78,312.6 L413.20,313.8 L411.63,312.6 L410.05,313.8 L408.48,312.6 L406.90,313.8 L405.33,312.6 L403.75,313.8 L402.18,312.6 L400.60,313.8 L399.03,312.6 L397.45,313.8 L395.88,312.6 L394.30,313.8 L392.73,312.6 L391.15,313.8 L389.58,312.6 L388.00,313.8 L386.43,312.6 L384.85,313.8 L383.28,312.6 L381.70,313.8 L380.13,312.6 L378.55,313.8 L376.98,312.6 L375.40,313.8 L373.83,312.6 L372.25,313.8 L370.68,312.6 L369.10,313.8 L367.53,312.6 L365.95,313.8 L364.38,312.6 L362.80,313.8 L361.23,312.6 L359.65,313.8 L358.08,312.6 L356.50,313.8 L354.93,312.6 L353.35,313.8 L351.78,312.6 L350.20,313.8 L348.63,312.6 L347.05,313.8 L345.48,312.6 L343.90,313.8 L342.33,312.6 L340.75,313.8 L339.18,312.6 L337.60,313.8 L336.03,312.6 L334.45,313.8 L332.88,312.6 L331.30,313.8 L329.73,312.6 L328.15,313.8 L326.58,312.6 L325.00,313.8 L323.43,312.6 L325,313 Z" fill="#1c1c1c" stroke="#111" stroke-width="0.5"/>
<path d="M326.50,289.5 Q324.90,301 326.50,312.8" fill="none" stroke="#6a6a6a" stroke-width="0.7"/>
<path d="M329.65,289.5 Q328.05,301 329.65,312.8" fill="none" stroke="#6a6a6a" stroke-width="0.7"/>
<path d="M332.80,289.5 Q331.20,301 332.80,312.8" fill="none" stroke="#6a6a6a" stroke-width="0.7"/>
<path d="M335.95,289.5 Q334.35,301 335.95,312.8" fill="none" stroke="#6a6a6a" stroke-width="0.7"/>
<path d="M339.10,289.5 Q337.50,301 339.10,312.8" fill="none" stroke="#6a6a6a" stroke-width="0.7"/>
<path d="M342.25,289.5 Q340.65,301 342.25,312.8" fill="none" stroke="#6a6a6a" stroke-width="0.7"/>
<path d="M345.40,289.5 Q343.80,301 345.40,312.8" fill="none" stroke="#6a6a6a" stroke-width="0.7"/>
<path d="M348.55,289.5 Q346.95,301 348.55,312.8" fill="none" stroke="#6a6a6a" stroke-width="0.7"/>
<path d="M351.70,289.5 Q350.10,301 351.70,312.8" fill="none" stroke="#6a6a6a" stroke-width="0.7"/>
<path d="M354.85,289.5 Q353.25,301 354.85,312.8" fill="none" stroke="#6a6a6a" stroke-width="0.7"/>
<path d="M358.00,289.5 Q356.40,301 358.00,312.8" fill="none" stroke="#6a6a6a" stroke-width="0.7"/>
<path d="M361.15,289.5 Q359.55,301 361.15,312.8" fill="none" stroke="#6a6a6a" stroke-width="0.7"/>
<path d="M364.30,289.5 Q362.70,301 364.30,312.8" fill="none" stroke="#6a6a6a" stroke-width="0.7"/>
<path d="M367.45,289.5 Q365.85,301 367.45,312.8" fill="none" stroke="#6a6a6a" stroke-width="0.7"/>
<path d="M370.60,289.5 Q369.00,301 370.60,312.8" fill="none" stroke="#6a6a6a" stroke-width="0.7"/>
<path d="M373.75,289.5 Q372.15,301 373.75,312.8" fill="none" stroke="#6a6a6a" stroke-width="0.7"/>
<path d="M376.90,289.5 Q375.30,301 376.90,312.8" fill="none" stroke="#6a6a6a" stroke-width="0.7"/>
<path d="M380.05,289.5 Q378.45,301 380.05,312.8" fill="none" stroke="#6a6a6a" stroke-width="0.7"/>
<path d="M383.20,289.5 Q381.60,301 383.20,312.8" fill="none" stroke="#6a6a6a" stroke-width="0.7"/>
<path d="M386.35,289.5 Q384.75,301 386.35,312.8" fill="none" stroke="#6a6a6a" stroke-width="0.7"/>
<path d="M389.50,289.5 Q387.90,301 389.50,312.8" fill="none" stroke="#6a6a6a" stroke-width="0.7"/>
<path d="M392.65,289.5 Q391.05,301 392.65,312.8" fill="none" stroke="#6a6a6a" stroke-width="0.7"/>
<path d="M395.80,289.5 Q394.20,301 395.80,312.8" fill="none" stroke="#6a6a6a" stroke-width="0.7"/>
<path d="M398.95,289.5 Q397.35,301 398.95,312.8" fill="none" stroke="#6a6a6a" stroke-width="0.7"/>
<path d="M402.10,289.5 Q400.50,301 402.10,312.8" fill="none" stroke="#6a6a6a" stroke-width="0.7"/>
<path d="M405.25,289.5 Q403.65,301 405.25,312.8" fill="none" stroke="#6a6a6a" stroke-width="0.7"/>
<path d="M408.40,289.5 Q406.80,301 408.40,312.8" fill="none" stroke="#6a6a6a" stroke-width="0.7"/>
<path d="M411.55,289.5 Q409.95,301 411.55,312.8" fill="none" stroke="#6a6a6a" stroke-width="0.7"/>
<path d="M414.70,289.5 Q413.10,301 414.70,312.8" fill="none" stroke="#6a6a6a" stroke-width="0.7"/>
<path d="M417.85,289.5 Q416.25,301 417.85,312.8" fill="none" stroke="#6a6a6a" stroke-width="0.7"/>
<line x1="340.2" y1="73" x2="340.2" y2="372" stroke="#111" stroke-width="1.5" />
<line x1="262" y1="199.5" x2="415.6" y2="199.5" stroke="#222" stroke-width="0.8" />
<path d="M340.4,147.2 L362.7,172.2 L351.2,172.2 L351.2,226.4 L362.7,226.4 L340.4,250.7 L316.6,226.4 L328.5,226.4 L328.5,172.2 L316.6,172.2 Z" fill="#8fb4da" stroke="#2a2a2a" stroke-width="0.8"/>
<text x="0" y="0" font-family="Liberation Sans" font-size="8" fill="#eef4fa" text-anchor="middle" letter-spacing="0.6" transform="translate(343.2,201.3) rotate(-90)">RADIAL</text>
<line x1="304" y1="49" x2="304" y2="75" stroke="#1a1a1a" stroke-width="0.7" />
<line x1="325.6" y1="49" x2="325.6" y2="73" stroke="#1a1a1a" stroke-width="0.7" />
<line x1="304" y1="51" x2="344.8" y2="51" stroke="#1a1a1a" stroke-width="0.8" />
<path d="M304.00,51.00 L311.00,49.60 L311.00,52.40 Z" fill="#111"/>
<path d="M325.60,51.00 L318.60,52.40 L318.60,49.60 Z" fill="#111"/>
<line x1="207.5" y1="108.4" x2="207.5" y2="166" stroke="#1a1a1a" stroke-width="0.7" />
<line x1="219.7" y1="108.4" x2="219.7" y2="150.8" stroke="#1a1a1a" stroke-width="0.7" />
<line x1="184" y1="110.6" x2="232" y2="110.6" stroke="#1a1a1a" stroke-width="0.8" />
<path d="M207.50,110.60 L200.50,112.00 L200.50,109.20 Z" fill="#111"/>
<path d="M219.70,110.60 L226.70,109.20 L226.70,112.00 Z" fill="#111"/>
<line x1="67" y1="166.3" x2="207.5" y2="166.3" stroke="#1a1a1a" stroke-width="0.7" />
<line x1="67" y1="232.2" x2="207.5" y2="232.2" stroke="#1a1a1a" stroke-width="0.7" />
<line x1="70.4" y1="166.3" x2="70.4" y2="232.2" stroke="#1a1a1a" stroke-width="0.7" />
<path d="M70.40,166.30 L72.00,172.80 L68.80,172.80 Z" fill="#111"/>
<path d="M70.40,232.20 L68.80,225.70 L72.00,225.70 Z" fill="#111"/>
<line x1="129.6" y1="231" x2="129.6" y2="369" stroke="#1a1a1a" stroke-width="0.7" />
<line x1="219.7" y1="247.7" x2="219.7" y2="370" stroke="#1a1a1a" stroke-width="1.3" />
<line x1="406.8" y1="325" x2="406.8" y2="370" stroke="#1a1a1a" stroke-width="0.7" />
<line x1="436.2" y1="157.6" x2="436.2" y2="370" stroke="#1a1a1a" stroke-width="0.7" />
<line x1="129.6" y1="366" x2="448" y2="366" stroke="#1a1a1a" stroke-width="0.7" />
<path d="M129.60,366.00 L136.10,364.40 L136.10,367.60 Z" fill="#111"/>
<path d="M219.70,366.00 L213.20,367.60 L213.20,364.40 Z" fill="#111"/>
<path d="M219.70,366.00 L226.20,364.40 L226.20,367.60 Z" fill="#111"/>
<path d="M340.20,366.00 L333.70,367.60 L333.70,364.40 Z" fill="#111"/>
<path d="M340.20,366.00 L346.70,364.40 L346.70,367.60 Z" fill="#111"/>
<path d="M406.80,366.00 L400.30,367.60 L400.30,364.40 Z" fill="#111"/>
<path d="M436.20,366.00 L442.70,364.40 L442.70,367.60 Z" fill="#111"/>
<line x1="302.4" y1="323" x2="302.4" y2="347.5" stroke="#1a1a1a" stroke-width="0.7" />
<line x1="290.7" y1="346.5" x2="353.5" y2="346.5" stroke="#1a1a1a" stroke-width="0.7" />
<path d="M302.40,346.50 L295.90,348.10 L295.90,344.90 Z" fill="#111"/>
<path d="M340.20,346.50 L346.70,344.90 L346.70,348.10 Z" fill="#111"/>
<line x1="406.2" y1="72.8" x2="538.8" y2="72.8" stroke="#1a1a1a" stroke-width="0.7" />
<line x1="406.2" y1="84.5" x2="471.8" y2="84.5" stroke="#1a1a1a" stroke-width="0.7" />
<line x1="406.2" y1="110.1" x2="471.8" y2="110.1" stroke="#1a1a1a" stroke-width="0.7" />
<line x1="407" y1="97.4" x2="495" y2="97.4" stroke="#1a1a1a" stroke-width="0.7" stroke-dasharray="3,2.5,200"/>
<line x1="405" y1="157.6" x2="471.8" y2="157.6" stroke="#1a1a1a" stroke-width="0.7" stroke-dasharray="15.7,3.7,4.4,7.8,100"/>
<line x1="405" y1="240.9" x2="471.8" y2="240.9" stroke="#1a1a1a" stroke-width="0.7" stroke-dasharray="15.7,3.7,4.4,7.8,100"/>
<line x1="421.7" y1="301.3" x2="495.8" y2="301.3" stroke="#1a1a1a" stroke-width="0.75" />
<line x1="406.2" y1="325.5" x2="538.8" y2="325.5" stroke="#1a1a1a" stroke-width="0.7" />
<line x1="469.4" y1="38" x2="469.4" y2="110.1" stroke="#1a1a1a" stroke-width="0.7" />
<path d="M469.40,84.50 L471.00,91.00 L467.80,91.00 Z" fill="#111"/>
<path d="M469.40,110.10 L467.80,103.60 L471.00,103.60 Z" fill="#111"/>
<line x1="469.4" y1="157.6" x2="469.4" y2="240.9" stroke="#1a1a1a" stroke-width="0.7" />
<path d="M469.40,157.60 L471.00,164.10 L467.80,164.10 Z" fill="#111"/>
<path d="M469.40,240.90 L467.80,234.40 L471.00,234.40 Z" fill="#111"/>
<line x1="493.6" y1="97.4" x2="493.6" y2="301.3" stroke="#1a1a1a" stroke-width="0.75" />
<path d="M493.60,97.40 L495.20,103.90 L492.00,103.90 Z" fill="#111"/>
<path d="M493.60,301.30 L492.00,294.80 L495.20,294.80 Z" fill="#111"/>
<line x1="536.6" y1="72.8" x2="536.6" y2="325.5" stroke="#1a1a1a" stroke-width="0.75" />
<path d="M536.60,72.80 L538.20,79.30 L535.00,79.30 Z" fill="#111"/>
<path d="M536.60,325.50 L535.00,319.00 L538.20,319.00 Z" fill="#111"/>
<text x="340" y="49" font-family="Liberation Sans" font-size="11.5" fill="#3d95d6" text-anchor="middle">J</text>
<text x="189.5" y="108" font-family="Liberation Sans" font-size="11.5" fill="#3d95d6" text-anchor="middle">I</text>
<text x="178" y="364" font-family="Liberation Sans" font-size="11.5" fill="#3d95d6" text-anchor="middle">F</text>
<text x="279" y="364" font-family="Liberation Sans" font-size="11.5" fill="#3d95d6" text-anchor="middle">E</text>
<text x="322" y="344" font-family="Liberation Sans" font-size="11.5" fill="#3d95d6" text-anchor="middle">D</text>
<text x="373" y="364" font-family="Liberation Sans" font-size="11.5" fill="#3d95d6" text-anchor="middle">C</text>
<text x="423.5" y="364" font-family="Liberation Sans" font-size="11.5" fill="#3d95d6" text-anchor="middle">N</text>
<text x="88.8" y="329" font-family="Liberation Sans" font-size="11.5" fill="#3d95d6" text-anchor="middle">G</text>
<circle cx="462.5" cy="205.0" r="4.1" fill="none" stroke="#1a1a1a" stroke-width="0.95"/>
<line x1="457.3" y1="203.0" x2="468.0" y2="207.3" stroke="#1a1a1a" stroke-width="1.0"/>
<text x="0" y="0" font-family="Liberation Sans" font-size="11.8" fill="#3d95d6" textLength="9" lengthAdjust="spacingAndGlyphs" transform="translate(467.3,198.1) rotate(-90)">M</text>
<circle cx="486.4" cy="203.5" r="4.1" fill="none" stroke="#1a1a1a" stroke-width="0.95"/>
<line x1="481.2" y1="201.5" x2="491.9" y2="205.8" stroke="#1a1a1a" stroke-width="1.0"/>
<text x="0" y="0" font-family="Liberation Sans" font-size="11.8" fill="#3d95d6" textLength="6.8" lengthAdjust="spacingAndGlyphs" transform="translate(491.2,196.8) rotate(-90)">B</text>
<circle cx="529.5" cy="204.2" r="4.1" fill="none" stroke="#1a1a1a" stroke-width="0.95"/>
<line x1="524.3" y1="202.2" x2="535.0" y2="206.5" stroke="#1a1a1a" stroke-width="1.0"/>
<text x="0" y="0" font-family="Liberation Sans" font-size="11.8" fill="#3d95d6" textLength="7.6" lengthAdjust="spacingAndGlyphs" transform="translate(534.3,197.9) rotate(-90)">A</text>
<circle cx="63.2" cy="204.1" r="4.1" fill="none" stroke="#1a1a1a" stroke-width="0.95"/>
<line x1="58.0" y1="202.1" x2="68.7" y2="206.4" stroke="#1a1a1a" stroke-width="1.0"/>
<text x="0" y="0" font-family="Liberation Sans" font-size="11.8" fill="#3d95d6" textLength="6.6" lengthAdjust="spacingAndGlyphs" transform="translate(68.0,196.7) rotate(-90)">H</text>
<circle cx="462.5" cy="54.7" r="4.1" fill="none" stroke="#1a1a1a" stroke-width="0.95"/>
<line x1="457.3" y1="52.7" x2="468.0" y2="57.0" stroke="#1a1a1a" stroke-width="1.0"/>
<text x="0" y="0" font-family="Liberation Sans" font-size="11.8" fill="#3d95d6" textLength="6.4" lengthAdjust="spacingAndGlyphs" transform="translate(467.3,46.9) rotate(-90)">K</text>
<path d="M169.3,32 L262.8,32 L298.6,132.2" fill="none" stroke="#000" stroke-width="1.3"/>
<path d="M298.60,132.20 L294.83,126.11 L297.66,125.10 Z" fill="#111"/>
<path d="M169,76 L214.9,76 L285.2,146.2" fill="none" stroke="#000" stroke-width="1.3"/>
<path d="M285.20,146.20 L279.19,142.31 L281.31,140.19 Z" fill="#111"/>
<path d="M436,31.4 L374.5,31.4 L348.3,156.9" fill="none" stroke="#000" stroke-width="0.9"/>
<path d="M94.6,319.5 L141,231" fill="none" stroke="#000" stroke-width="0.9"/>
<path d="M141.00,231.00 L139.07,237.89 L136.42,236.50 Z" fill="#111"/>
<text x="111.2" y="28.6" font-family="Liberation Sans" font-size="10.4" fill="#2a2a2a" textLength="56.3" lengthAdjust="spacingAndGlyphs">PLANETARY</text>
<text x="121" y="40.3" font-family="Liberation Sans" font-size="10.4" fill="#2a2a2a" textLength="39.5" lengthAdjust="spacingAndGlyphs">SPHERE</text>
<text x="120" y="79.7" font-family="Liberation Sans" font-size="10.4" fill="#2a2a2a" textLength="47.3" lengthAdjust="spacingAndGlyphs">RETAINER</text>
<text x="440.6" y="34.8" font-family="Liberation Sans" font-size="10.9" fill="#2a2a2a" textLength="64.4" lengthAdjust="spacingAndGlyphs">SUN SPHERE</text>
<text x="574" y="61.6" font-family="Liberation Sans" font-size="20" fill="#5a5a5a" textLength="31" lengthAdjust="spacingAndGlyphs">SRJ</text>
<text x="625" y="61.6" font-family="Liberation Sans" font-size="20" fill="#5a5a5a" textLength="30.5" lengthAdjust="spacingAndGlyphs">012</text>
<text x="679" y="61.6" font-family="Liberation Sans" font-size="20" fill="#5a5a5a" textLength="10.5" lengthAdjust="spacingAndGlyphs">C</text>
<text x="701" y="61.6" font-family="Liberation Sans" font-size="20" fill="#5a5a5a" text-anchor="middle">-</text>
<text x="715.5" y="61.6" font-family="Liberation Sans" font-size="20" fill="#5a5a5a" textLength="9.1" lengthAdjust="spacingAndGlyphs">P</text>
<rect x="574" y="68.8" width="31" height="3.2" fill="#333"/>
<rect x="625" y="68.8" width="31" height="3.2" fill="#333"/>
<rect x="714" y="68.8" width="13" height="3.2" fill="#222"/>
<line x1="589.4" y1="72" x2="589.4" y2="161.6" stroke="#777" stroke-width="0.8" />
<line x1="640.9" y1="72" x2="640.9" y2="211" stroke="#777" stroke-width="0.8" />
<line x1="721.4" y1="72" x2="721.4" y2="231" stroke="#555" stroke-width="0.8" />
<line x1="721.4" y1="255.8" x2="721.4" y2="275" stroke="#555" stroke-width="0.8" />
<path d="M692.2,285.2 L692.2,275 L751,275 L751,285.2" fill="none" stroke="#555" stroke-width="0.9"/>
<text x="689.2" y="297.6" font-family="Liberation Sans" font-size="12" fill="#666">P</text>
<text x="742.9" y="297.6" font-family="Liberation Sans" font-size="12" fill="#666">SP</text>
</svg>
<div class="abs" style="left:558px;top:166px;font-family:'Liberation Serif',serif;font-size:14px;letter-spacing:2.3px;color:#222;white-space:nowrap;line-height:1">球铰轴承</div>
<div class="abs" style="left:558px;top:184.5px;font-family:'Liberation Serif',serif;font-size:14px;letter-spacing:1.5px;color:#222;white-space:nowrap;line-height:1">SRJ系列</div>
<div class="abs" style="left:611px;top:220.5px;font-family:'Liberation Serif',serif;font-size:14px;letter-spacing:2.5px;color:#222;white-space:nowrap;line-height:1">型号尺寸</div>
<div class="abs" style="left:688.6px;top:238.5px;font-family:'Liberation Serif',serif;font-size:14px;letter-spacing:2.7px;color:#222;white-space:nowrap;line-height:1">精度等级</div>
<div class="abs" style="left:646px;top:303.5px;font-family:'Liberation Serif',serif;font-size:13px;letter-spacing:1.2px;color:#222;white-space:nowrap;line-height:1">摆动精度</div>
<div class="abs" style="left:730.2px;top:303.5px;font-family:'Liberation Serif',serif;font-size:13px;letter-spacing:1.2px;color:#222;white-space:nowrap;line-height:1">摆动精度</div>
<div class="abs" style="left:646.5px;top:317.3px;font-family:'Liberation Serif',serif;font-size:12px;letter-spacing:4.1px;color:#222;white-space:nowrap;line-height:1"><span style='font-size:16px;letter-spacing:3px'>±</span>2.5μm</div>
<div class="abs" style="left:730.7px;top:317.3px;font-family:'Liberation Serif',serif;font-size:12px;letter-spacing:4.4px;color:#222;white-space:nowrap;line-height:1"><span style='font-size:16px;letter-spacing:3px'>±</span>1μm</div>
<div class="abs" style="left:63px;top:381px;font-size:13px;color:#3a8fd0;letter-spacing:-0.2px">DIMENSIONS</div>
<div class="abs" style="left:62px;top:400px;width:719.6px;height:198px;background:#edf3f7"></div>
<div class="abs" style="left:64px;top:454.50px;width:715.6px;height:17.94px;background:#dce8f2"></div>
<div class="abs" style="left:64px;top:490.38px;width:715.6px;height:17.94px;background:#dce8f2"></div>
<div class="abs" style="left:64px;top:526.26px;width:715.6px;height:17.94px;background:#dce8f2"></div>
<div class="abs" style="left:64px;top:562.14px;width:715.6px;height:17.94px;background:#dce8f2"></div>
<div class="abs" style="left:134.5px;top:400px;width:2px;height:198px;background:#fff"></div>
<div class="abs" style="left:181.5px;top:400px;width:2px;height:198px;background:#fff"></div>
<div class="abs" style="left:224.0px;top:400px;width:2px;height:198px;background:#fff"></div>
<div class="abs" style="left:266.5px;top:400px;width:2px;height:198px;background:#fff"></div>
<div class="abs" style="left:307.5px;top:400px;width:2px;height:198px;background:#fff"></div>
<div class="abs" style="left:349.4px;top:400px;width:2px;height:198px;background:#fff"></div>
<div class="abs" style="left:399.0px;top:400px;width:2px;height:198px;background:#fff"></div>
<div class="abs" style="left:468.6px;top:400px;width:2px;height:198px;background:#fff"></div>
<div class="abs" style="left:520.6px;top:400px;width:2px;height:198px;background:#fff"></div>
<div class="abs" style="left:563.9px;top:400px;width:2px;height:198px;background:#fff"></div>
<div class="abs" style="left:603.4px;top:400px;width:2px;height:198px;background:#fff"></div>
<div class="abs" style="left:647.2px;top:400px;width:2px;height:198px;background:#fff"></div>
<div class="abs" style="left:691.1px;top:400px;width:2px;height:198px;background:#fff"></div>
<div class="abs" style="left:731.0px;top:400px;width:2px;height:198px;background:#fff"></div>
<div class="abs" style="left:71px;top:411px;font-size:8.9px;font-weight:bold;color:#2a2a2a">MODEL</div>
<div class="abs" style="left:69.5px;top:429px;font-size:9.6px;color:#333">(units: mm)</div>
<div class="abs" style="left:134.8px;top:411px;width:47.0px;text-align:center;font-size:8.8px;font-weight:bold;color:#2a2a2a">A</div>
<div class="abs" style="left:180.75px;top:411px;width:42.5px;text-align:center;font-size:8.8px;font-weight:bold;color:#2a2a2a">B</div>
<div class="abs" style="left:224.3px;top:411px;width:42.5px;text-align:center;font-size:8.8px;font-weight:bold;color:#2a2a2a">C</div>
<div class="abs" style="left:268.0px;top:411px;width:41.0px;text-align:center;font-size:8.8px;font-weight:bold;color:#2a2a2a">D</div>
<div class="abs" style="left:309.1px;top:411px;width:41.89999999999998px;text-align:center;font-size:8.8px;font-weight:bold;color:#2a2a2a">E</div>
<div class="abs" style="left:346.4px;top:411px;width:49.60000000000002px;text-align:center;font-size:8.8px;font-weight:bold;color:#2a2a2a">F</div>
<div class="abs" style="left:398.0px;top:411px;width:69.60000000000002px;text-align:center;font-size:8.8px;font-weight:bold;color:#2a2a2a">G</div>
<div class="abs" style="left:471.40000000000003px;top:411px;width:51.99999999999994px;text-align:center;font-size:8.8px;font-weight:bold;color:#2a2a2a">H</div>
<div class="abs" style="left:520.0px;top:411px;width:43.299999999999955px;text-align:center;font-size:8.8px;font-weight:bold;color:#2a2a2a">I</div>
<div class="abs" style="left:566.5px;top:411px;width:39.5px;text-align:center;font-size:8.8px;font-weight:bold;color:#2a2a2a">J</div>
<div class="abs" style="left:605.4px;top:411px;width:43.80000000000007px;text-align:center;font-size:8.8px;font-weight:bold;color:#2a2a2a">K</div>
<div class="abs" style="left:648.2px;top:411px;width:43.89999999999998px;text-align:center;font-size:8.8px;font-weight:bold;color:#2a2a2a">M</div>
<div class="abs" style="left:694.1px;top:411px;width:39.89999999999998px;text-align:center;font-size:8.8px;font-weight:bold;color:#2a2a2a">N</div>
<div class="abs" style="left:731.4px;top:411.8px;width:49.60000000000002px;text-align:center;font-size:8.5px;font-weight:bold;color:#2a2a2a;line-height:9.45px">WIDTH<br>ACROSS<br>FLATS</div>
<div class="abs" style="left:71px;top:458.00px;font-size:9.9px;color:#333;line-height:11px">SRJ004C</div>
<div class="abs" style="left:134.8px;top:458.00px;width:47.0px;text-align:center;font-size:10px;color:#333;line-height:11px">19</div>
<div class="abs" style="left:180.75px;top:458.00px;width:42.5px;text-align:center;font-size:10px;color:#333;line-height:11px">15</div>
<div class="abs" style="left:224.3px;top:458.00px;width:42.5px;text-align:center;font-size:10px;color:#333;line-height:11px">3.8</div>
<div class="abs" style="left:268.0px;top:458.00px;width:41.0px;text-align:center;font-size:10px;color:#333;line-height:11px">2.5</div>
<div class="abs" style="left:309.1px;top:458.00px;width:41.89999999999998px;text-align:center;font-size:10px;color:#333;line-height:11px">10</div>
<div class="abs" style="left:346.4px;top:458.00px;width:49.60000000000002px;text-align:center;font-size:10px;color:#333;line-height:11px">6</div>
<div class="abs" style="left:398.0px;top:458.00px;width:69.60000000000002px;text-align:center;font-size:10px;color:#333;line-height:11px;letter-spacing:0.25px">M3x0.5</div>
<div class="abs" style="left:471.40000000000003px;top:458.00px;width:51.99999999999994px;text-align:center;font-size:10px;color:#333;line-height:11px">3.6</div>
<div class="abs" style="left:520.0px;top:458.00px;width:43.299999999999955px;text-align:center;font-size:10px;color:#333;line-height:11px">2</div>
<div class="abs" style="left:566.5px;top:458.00px;width:39.5px;text-align:center;font-size:10px;color:#333;line-height:11px">1.5</div>
<div class="abs" style="left:605.4px;top:458.00px;width:43.80000000000007px;text-align:center;font-size:10px;color:#333;line-height:11px">2</div>
<div class="abs" style="left:648.2px;top:458.00px;width:43.89999999999998px;text-align:center;font-size:10px;color:#333;line-height:11px">6</div>
<div class="abs" style="left:694.1px;top:458.00px;width:39.89999999999998px;text-align:center;font-size:10px;color:#333;line-height:11px">1.5</div>
<div class="abs" style="left:731.4px;top:458.00px;width:49.60000000000002px;text-align:center;font-size:10px;color:#333;line-height:11px">4</div>
<div class="abs" style="left:71px;top:475.94px;font-size:9.9px;color:#333;line-height:11px">SRJ006C</div>
<div class="abs" style="left:134.8px;top:475.94px;width:47.0px;text-align:center;font-size:10px;color:#333;line-height:11px">25</div>
<div class="abs" style="left:180.75px;top:475.94px;width:42.5px;text-align:center;font-size:10px;color:#333;line-height:11px">20</div>
<div class="abs" style="left:224.3px;top:475.94px;width:42.5px;text-align:center;font-size:10px;color:#333;line-height:11px">5.5</div>
<div class="abs" style="left:268.0px;top:475.94px;width:41.0px;text-align:center;font-size:10px;color:#333;line-height:11px">3.8</div>
<div class="abs" style="left:309.1px;top:475.94px;width:41.89999999999998px;text-align:center;font-size:10px;color:#333;line-height:11px">11.5</div>
<div class="abs" style="left:346.4px;top:475.94px;width:49.60000000000002px;text-align:center;font-size:10px;color:#333;line-height:11px">8</div>
<div class="abs" style="left:398.0px;top:475.94px;width:69.60000000000002px;text-align:center;font-size:10px;color:#333;line-height:11px;letter-spacing:0.25px">M4x0.5</div>
<div class="abs" style="left:471.40000000000003px;top:475.94px;width:51.99999999999994px;text-align:center;font-size:10px;color:#333;line-height:11px">4.5</div>
<div class="abs" style="left:520.0px;top:475.94px;width:43.299999999999955px;text-align:center;font-size:10px;color:#333;line-height:11px">2</div>
<div class="abs" style="left:566.5px;top:475.94px;width:39.5px;text-align:center;font-size:10px;color:#333;line-height:11px">2.3</div>
<div class="abs" style="left:605.4px;top:475.94px;width:43.80000000000007px;text-align:center;font-size:10px;color:#333;line-height:11px">3</div>
<div class="abs" style="left:648.2px;top:475.94px;width:43.89999999999998px;text-align:center;font-size:10px;color:#333;line-height:11px">10</div>
<div class="abs" style="left:694.1px;top:475.94px;width:39.89999999999998px;text-align:center;font-size:10px;color:#333;line-height:11px">2</div>
<div class="abs" style="left:731.4px;top:475.94px;width:49.60000000000002px;text-align:center;font-size:10px;color:#333;line-height:11px">5</div>
<div class="abs" style="left:71px;top:493.88px;font-size:9.9px;color:#333;line-height:11px">SRJ008C</div>
<div class="abs" style="left:134.8px;top:493.88px;width:47.0px;text-align:center;font-size:10px;color:#333;line-height:11px">30</div>
<div class="abs" style="left:180.75px;top:493.88px;width:42.5px;text-align:center;font-size:10px;color:#333;line-height:11px">24</div>
<div class="abs" style="left:224.3px;top:493.88px;width:42.5px;text-align:center;font-size:10px;color:#333;line-height:11px">7</div>
<div class="abs" style="left:268.0px;top:493.88px;width:41.0px;text-align:center;font-size:10px;color:#333;line-height:11px">4</div>
<div class="abs" style="left:309.1px;top:493.88px;width:41.89999999999998px;text-align:center;font-size:10px;color:#333;line-height:11px">16</div>
<div class="abs" style="left:346.4px;top:493.88px;width:49.60000000000002px;text-align:center;font-size:10px;color:#333;line-height:11px">12</div>
<div class="abs" style="left:398.0px;top:493.88px;width:69.60000000000002px;text-align:center;font-size:10px;color:#333;line-height:11px;letter-spacing:0.25px">M5x0.5</div>
<div class="abs" style="left:471.40000000000003px;top:493.88px;width:51.99999999999994px;text-align:center;font-size:10px;color:#333;line-height:11px">5.5</div>
<div class="abs" style="left:520.0px;top:493.88px;width:43.299999999999955px;text-align:center;font-size:10px;color:#333;line-height:11px">4</div>
<div class="abs" style="left:566.5px;top:493.88px;width:39.5px;text-align:center;font-size:10px;color:#333;line-height:11px">2</div>
<div class="abs" style="left:605.4px;top:493.88px;width:43.80000000000007px;text-align:center;font-size:10px;color:#333;line-height:11px">3.4</div>
<div class="abs" style="left:648.2px;top:493.88px;width:43.89999999999998px;text-align:center;font-size:10px;color:#333;line-height:11px">11</div>
<div class="abs" style="left:694.1px;top:493.88px;width:39.89999999999998px;text-align:center;font-size:10px;color:#333;line-height:11px">2</div>
<div class="abs" style="left:731.4px;top:493.88px;width:49.60000000000002px;text-align:center;font-size:10px;color:#333;line-height:11px">7</div>
<div class="abs" style="left:71px;top:511.82px;font-size:9.9px;color:#333;line-height:11px">SRJ012C</div>
<div class="abs" style="left:134.8px;top:511.82px;width:47.0px;text-align:center;font-size:10px;color:#333;line-height:11px">42</div>
<div class="abs" style="left:180.75px;top:511.82px;width:42.5px;text-align:center;font-size:10px;color:#333;line-height:11px">34</div>
<div class="abs" style="left:224.3px;top:511.82px;width:42.5px;text-align:center;font-size:10px;color:#333;line-height:11px">11</div>
<div class="abs" style="left:268.0px;top:511.82px;width:41.0px;text-align:center;font-size:10px;color:#333;line-height:11px">6</div>
<div class="abs" style="left:309.1px;top:511.82px;width:41.89999999999998px;text-align:center;font-size:10px;color:#333;line-height:11px">20</div>
<div class="abs" style="left:346.4px;top:511.82px;width:49.60000000000002px;text-align:center;font-size:10px;color:#333;line-height:11px">15</div>
<div class="abs" style="left:398.0px;top:511.82px;width:69.60000000000002px;text-align:center;font-size:10px;color:#333;line-height:11px;letter-spacing:0.25px">M10x1.5</div>
<div class="abs" style="left:471.40000000000003px;top:511.82px;width:51.99999999999994px;text-align:center;font-size:10px;color:#333;line-height:11px">11</div>
<div class="abs" style="left:520.0px;top:511.82px;width:43.299999999999955px;text-align:center;font-size:10px;color:#333;line-height:11px">2</div>
<div class="abs" style="left:566.5px;top:511.82px;width:39.5px;text-align:center;font-size:10px;color:#333;line-height:11px">3.6</div>
<div class="abs" style="left:605.4px;top:511.82px;width:43.80000000000007px;text-align:center;font-size:10px;color:#333;line-height:11px">4.3</div>
<div class="abs" style="left:648.2px;top:511.82px;width:43.89999999999998px;text-align:center;font-size:10px;color:#333;line-height:11px">14</div>
<div class="abs" style="left:694.1px;top:511.82px;width:39.89999999999998px;text-align:center;font-size:10px;color:#333;line-height:11px">2</div>
<div class="abs" style="left:731.4px;top:511.82px;width:49.60000000000002px;text-align:center;font-size:10px;color:#333;line-height:11px">14</div>
<div class="abs" style="left:71px;top:529.76px;font-size:9.9px;color:#333;line-height:11px">SRJ016C</div>
<div class="abs" style="left:134.8px;top:529.76px;width:47.0px;text-align:center;font-size:10px;color:#333;line-height:11px">56</div>
<div class="abs" style="left:180.75px;top:529.76px;width:42.5px;text-align:center;font-size:10px;color:#333;line-height:11px">45</div>
<div class="abs" style="left:224.3px;top:529.76px;width:42.5px;text-align:center;font-size:10px;color:#333;line-height:11px">12</div>
<div class="abs" style="left:268.0px;top:529.76px;width:41.0px;text-align:center;font-size:10px;color:#333;line-height:11px">7</div>
<div class="abs" style="left:309.1px;top:529.76px;width:41.89999999999998px;text-align:center;font-size:10px;color:#333;line-height:11px">32</div>
<div class="abs" style="left:346.4px;top:529.76px;width:49.60000000000002px;text-align:center;font-size:10px;color:#333;line-height:11px">18</div>
<div class="abs" style="left:398.0px;top:529.76px;width:69.60000000000002px;text-align:center;font-size:10px;color:#333;line-height:11px;letter-spacing:0.25px">M12x1.75</div>
<div class="abs" style="left:471.40000000000003px;top:529.76px;width:51.99999999999994px;text-align:center;font-size:10px;color:#333;line-height:11px">12.6</div>
<div class="abs" style="left:520.0px;top:529.76px;width:43.299999999999955px;text-align:center;font-size:10px;color:#333;line-height:11px">3</div>
<div class="abs" style="left:566.5px;top:529.76px;width:39.5px;text-align:center;font-size:10px;color:#333;line-height:11px">4.6</div>
<div class="abs" style="left:605.4px;top:529.76px;width:43.80000000000007px;text-align:center;font-size:10px;color:#333;line-height:11px">5.5</div>
<div class="abs" style="left:648.2px;top:529.76px;width:43.89999999999998px;text-align:center;font-size:10px;color:#333;line-height:11px">25</div>
<div class="abs" style="left:694.1px;top:529.76px;width:39.89999999999998px;text-align:center;font-size:10px;color:#333;line-height:11px">5</div>
<div class="abs" style="left:731.4px;top:529.76px;width:49.60000000000002px;text-align:center;font-size:10px;color:#333;line-height:11px">14</div>
<div class="abs" style="left:71px;top:547.70px;font-size:9.9px;color:#333;line-height:11px">SRJ024C</div>
<div class="abs" style="left:134.8px;top:547.70px;width:47.0px;text-align:center;font-size:10px;color:#333;line-height:11px">74</div>
<div class="abs" style="left:180.75px;top:547.70px;width:42.5px;text-align:center;font-size:10px;color:#333;line-height:11px">62</div>
<div class="abs" style="left:224.3px;top:547.70px;width:42.5px;text-align:center;font-size:10px;color:#333;line-height:11px">17</div>
<div class="abs" style="left:268.0px;top:547.70px;width:41.0px;text-align:center;font-size:10px;color:#333;line-height:11px">11</div>
<div class="abs" style="left:309.1px;top:547.70px;width:41.89999999999998px;text-align:center;font-size:10px;color:#333;line-height:11px">42</div>
<div class="abs" style="left:346.4px;top:547.70px;width:49.60000000000002px;text-align:center;font-size:10px;color:#333;line-height:11px">23</div>
<div class="abs" style="left:398.0px;top:547.70px;width:69.60000000000002px;text-align:center;font-size:10px;color:#333;line-height:11px;letter-spacing:0.25px">M14x2</div>
<div class="abs" style="left:471.40000000000003px;top:547.70px;width:51.99999999999994px;text-align:center;font-size:10px;color:#333;line-height:11px">15</div>
<div class="abs" style="left:520.0px;top:547.70px;width:43.299999999999955px;text-align:center;font-size:10px;color:#333;line-height:11px">5</div>
<div class="abs" style="left:566.5px;top:547.70px;width:39.5px;text-align:center;font-size:10px;color:#333;line-height:11px">5.5</div>
<div class="abs" style="left:605.4px;top:547.70px;width:43.80000000000007px;text-align:center;font-size:10px;color:#333;line-height:11px">6.6</div>
<div class="abs" style="left:648.2px;top:547.70px;width:43.89999999999998px;text-align:center;font-size:10px;color:#333;line-height:11px">35</div>
<div class="abs" style="left:694.1px;top:547.70px;width:39.89999999999998px;text-align:center;font-size:10px;color:#333;line-height:11px">7</div>
<div class="abs" style="left:731.4px;top:547.70px;width:49.60000000000002px;text-align:center;font-size:10px;color:#333;line-height:11px">17</div>
<div class="abs" style="left:71px;top:565.64px;font-size:9.9px;color:#333;line-height:11px">SRJ032C</div>
<div class="abs" style="left:134.8px;top:565.64px;width:47.0px;text-align:center;font-size:10px;color:#333;line-height:11px">100</div>
<div class="abs" style="left:180.75px;top:565.64px;width:42.5px;text-align:center;font-size:10px;color:#333;line-height:11px">84</div>
<div class="abs" style="left:224.3px;top:565.64px;width:42.5px;text-align:center;font-size:10px;color:#333;line-height:11px">22</div>
<div class="abs" style="left:268.0px;top:565.64px;width:41.0px;text-align:center;font-size:10px;color:#333;line-height:11px">16</div>
<div class="abs" style="left:309.1px;top:565.64px;width:41.89999999999998px;text-align:center;font-size:10px;color:#333;line-height:11px">60</div>
<div class="abs" style="left:346.4px;top:565.64px;width:49.60000000000002px;text-align:center;font-size:10px;color:#333;line-height:11px">30</div>
<div class="abs" style="left:398.0px;top:565.64px;width:69.60000000000002px;text-align:center;font-size:10px;color:#333;line-height:11px;letter-spacing:0.25px">M16x2</div>
<div class="abs" style="left:471.40000000000003px;top:565.64px;width:51.99999999999994px;text-align:center;font-size:10px;color:#333;line-height:11px">16.6</div>
<div class="abs" style="left:520.0px;top:565.64px;width:43.299999999999955px;text-align:center;font-size:10px;color:#333;line-height:11px">6</div>
<div class="abs" style="left:566.5px;top:565.64px;width:39.5px;text-align:center;font-size:10px;color:#333;line-height:11px">8.6</div>
<div class="abs" style="left:605.4px;top:565.64px;width:43.80000000000007px;text-align:center;font-size:10px;color:#333;line-height:11px">9</div>
<div class="abs" style="left:648.2px;top:565.64px;width:43.89999999999998px;text-align:center;font-size:10px;color:#333;line-height:11px">48</div>
<div class="abs" style="left:694.1px;top:565.64px;width:39.89999999999998px;text-align:center;font-size:10px;color:#333;line-height:11px">10</div>
<div class="abs" style="left:731.4px;top:565.64px;width:49.60000000000002px;text-align:center;font-size:10px;color:#333;line-height:11px">22</div>
<div class="abs" style="left:71px;top:583.58px;font-size:9.9px;color:#333;line-height:11px">SRJ048C</div>
<div class="abs" style="left:134.8px;top:583.58px;width:47.0px;text-align:center;font-size:10px;color:#333;line-height:11px">136</div>
<div class="abs" style="left:180.75px;top:583.58px;width:42.5px;text-align:center;font-size:10px;color:#333;line-height:11px">114</div>
<div class="abs" style="left:224.3px;top:583.58px;width:42.5px;text-align:center;font-size:10px;color:#333;line-height:11px">38</div>
<div class="abs" style="left:268.0px;top:583.58px;width:41.0px;text-align:center;font-size:10px;color:#333;line-height:11px">22</div>
<div class="abs" style="left:309.1px;top:583.58px;width:41.89999999999998px;text-align:center;font-size:10px;color:#333;line-height:11px">78</div>
<div class="abs" style="left:346.4px;top:583.58px;width:49.60000000000002px;text-align:center;font-size:10px;color:#333;line-height:11px">38</div>
<div class="abs" style="left:398.0px;top:583.58px;width:69.60000000000002px;text-align:center;font-size:10px;color:#333;line-height:11px;letter-spacing:0.25px">M28x2</div>
<div class="abs" style="left:471.40000000000003px;top:583.58px;width:51.99999999999994px;text-align:center;font-size:10px;color:#333;line-height:11px">30</div>
<div class="abs" style="left:520.0px;top:583.58px;width:43.299999999999955px;text-align:center;font-size:10px;color:#333;line-height:11px">6</div>
<div class="abs" style="left:566.5px;top:583.58px;width:39.5px;text-align:center;font-size:10px;color:#333;line-height:11px">10.8</div>
<div class="abs" style="left:605.4px;top:583.58px;width:43.80000000000007px;text-align:center;font-size:10px;color:#333;line-height:11px">11</div>
<div class="abs" style="left:648.2px;top:583.58px;width:43.89999999999998px;text-align:center;font-size:10px;color:#333;line-height:11px">60</div>
<div class="abs" style="left:694.1px;top:583.58px;width:39.89999999999998px;text-align:center;font-size:10px;color:#333;line-height:11px">10</div>
<div class="abs" style="left:731.4px;top:583.58px;width:49.60000000000002px;text-align:center;font-size:10px;color:#333;line-height:11px">30</div>
<div class="abs" style="left:512.5px;top:601.2px;font-size:7.62px;color:#333;white-space:nowrap;letter-spacing:-0.02px">M and N indicate the required clearance for the retainer on the mounting surface</div>
<div class="abs" style="left:61px;top:605px;font-family:'Liberation Serif',serif;font-size:15.5px;letter-spacing:0.07px;color:#111;white-space:nowrap;line-height:1">备注：SRJ008~SRJ032型号可对应SP级精度</div>
<div class="abs" style="left:61px;top:621.5px;font-family:'Liberation Serif',serif;font-size:15.5px;letter-spacing:0.2px;color:#111;white-space:nowrap;line-height:1">上海广百贸易有限公司</div>
<div class="abs" style="left:62.5px;top:637px;font-family:'Liberation Mono',monospace;font-size:13.8px;color:#111;line-height:1">www.gbearings.cn</div>
<svg width="800" height="657" style="position:absolute;left:0;top:0"><text x="682.8" y="635.3" font-family="Liberation Serif" font-weight="bold" font-size="18.6" fill="#fff" stroke="#2f88d0" stroke-width="3.2" paint-order="stroke" stroke-linejoin="round" textLength="96.5" lengthAdjust="spacingAndGlyphs">HEPHAIST</text></svg>
<svg width="800" height="657" viewBox="0 0 800 657" style="position:absolute;left:0;top:0;pointer-events:none">
<g transform="translate(230.35,445.5) rotate(-35.6)" fill="#000" fill-opacity="0.12">
<text x="-20" y="15" font-family="Liberation Serif" font-size="40" font-weight="300" letter-spacing="1.72">上海广百贸易有限公司</text>
<text x="21" y="67.9" font-family="Liberation Mono" font-size="36" letter-spacing="-0.33">www.gbearings.cn</text>
</g></svg>
</body></html>
